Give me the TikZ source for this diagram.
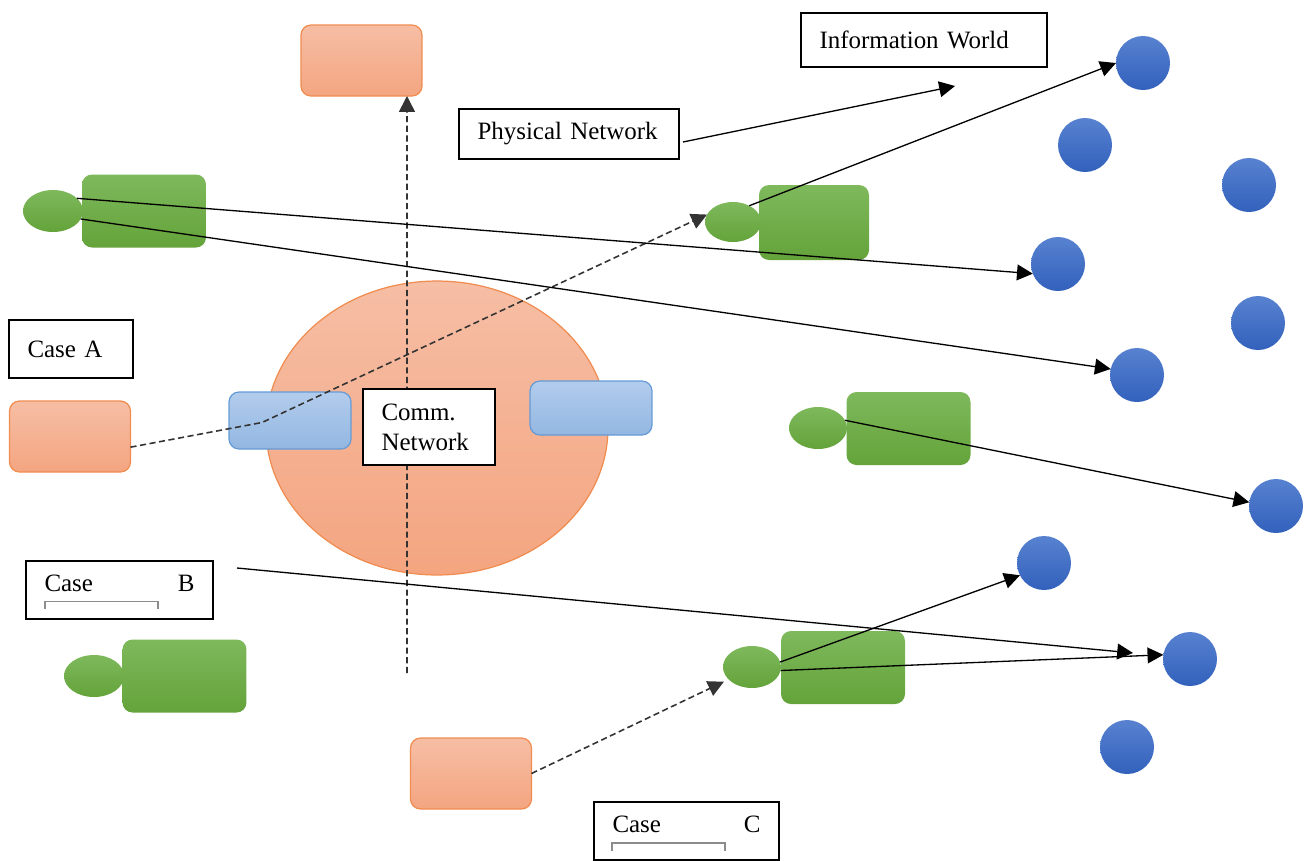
\documentclass[tikz,border=0pt]{standalone}
\usepackage{fontspec}
\setmainfont{Liberation Serif}[WordSpace=0.7]
\usepackage{tikz}
\usetikzlibrary{shapes,arrows.meta,positioning}
\definecolor{greentop}{RGB}{126,185,92}
\definecolor{greenbot}{RGB}{100,163,58}
\definecolor{orangetop}{RGB}{246,190,165}
\definecolor{orangebot}{RGB}{244,165,128}
\definecolor{orangeline}{RGB}{240,140,80}
\definecolor{bluetop}{RGB}{178,204,236}
\definecolor{bluebot}{RGB}{147,183,226}
\definecolor{blueline}{RGB}{102,155,213}
\definecolor{dottop}{RGB}{88,130,208}
\definecolor{dotbot}{RGB}{50,97,188}

\begin{document}
\begin{tikzpicture}[x=0.02cm, y=-0.02cm,
  every node/.style={inner sep=0pt, outer sep=0pt},
  netshape/.style={ellipse, draw=orangeline, line width=0.7pt, top color=orangetop, bottom color=orangebot},
  orangebox/.style={rectangle, rounded corners=0.2cm, draw=orangeline, line width=0.7pt, top color=orangetop, bottom color=orangebot, minimum width=2.42cm, minimum height=1.42cm},
  bluebox/.style={rectangle, rounded corners=0.2cm, draw=blueline, line width=0.7pt, top color=bluetop, bottom color=bluebot, minimum width=2.44cm, minimum height=1.14cm},
  greenbody/.style={rectangle, rounded corners=0.2cm, top color=greentop, bottom color=greenbot, minimum width=2.48cm, minimum height=1.46cm},
  greenhead/.style={ellipse, top color=greentop, bottom color=greenbot, minimum width=1.2cm, minimum height=0.84cm},
  thing/.style={circle, top color=dottop, bottom color=dotbot, minimum size=1.08cm},
  textbox/.style={rectangle, draw=black, fill=white, line width=0.75pt, inner xsep=0.37cm, align=left, font=\fontsize{14.2}{17}\selectfont},
  bracket/.style={draw=black!45, line width=0.6pt},
  link/.style={-{Triangle[length=9pt,width=9pt]}, line width=0.75pt, black},
  dlink/.style={link, draw=black!80, line width=0.9pt, dash pattern=on 3.5pt off 2pt}]
\useasboundingbox (0,0) rectangle (1307,860);

% Comm. network
\node[netshape, minimum width=6.84cm, minimum height=5.88cm] (net) at (437,428) {};
\node[bluebox] (blueL) at (290,420.5) {};
\node[bluebox, minimum height=1.08cm] (blueR) at (591,408) {};

% Orange boxes
\node[orangebox] (orT) at (361.5,60.5) {};
\node[orangebox] (orA) at (70,436.5) {};
\node[orangebox] (orB) at (471,773.5) {};

% Green actors, body first then head
\node[greenbody] (b1) at (144,211) {};
\node[greenhead] (h1) at (53,211) {};
\node[greenbody, minimum width=2.2cm, minimum height=1.5cm] (b2) at (814,222.5) {};
\node[greenhead, minimum width=1.12cm, minimum height=0.8cm] (h2) at (733,222) {};
\node[greenbody] (b3) at (908.5,428.5) {};
\node[greenhead, minimum width=1.16cm] (h3) at (818,428) {};
\node[greenbody] (b4) at (184.5,676) {};
\node[greenhead] (h4) at (94,676) {};
\node[greenbody] (b5) at (843,667.5) {};
\node[greenhead, minimum width=1.16cm] (h5) at (752,667) {};

% Information world things
\node[thing] (c1) at (1143,63) {};
\node[thing] (c2) at (1085,145) {};
\node[thing] (c3) at (1249,185) {};
\node[thing] (c4) at (1058,264) {};
\node[thing] (c5) at (1258,323) {};
\node[thing] (c6) at (1137,375) {};
\node[thing] (c7) at (1276,506) {};
\node[thing] (c8) at (1044,563) {};
\node[thing] (c9) at (1190,659) {};
\node[thing] (c10) at (1127,747) {};

% Labels
\node[textbox, text width=4.18cm, minimum height=1.08cm] (info) at (924,40) {Information World};
\node[textbox, text width=3.66cm, minimum height=1.0cm] (phys) at (569,134) {Physical Network};
\node[textbox, text width=1.74cm, minimum height=1.16cm] (caseA) at (71,349) {Case A};
\node[textbox, text width=3.0cm, minimum height=1.16cm, text depth=8pt] (caseB) at (119.5,590) {Case\hfill B};
\node[textbox, text width=2.96cm, minimum height=1.16cm, text depth=8pt] (caseC) at (686.5,831) {Case\hfill C};
\coordinate (iwtip) at (955,86);
\coordinate (vstart) at (407,673);

% Brackets under Case
\draw[bracket] (45,609) -- (45,601.5) -- (158,601.5) -- (158,609);
\draw[bracket] (612,851) -- (612,843) -- (725,843) -- (725,851);

% Vertical dashed arrow, under the comm. box
\draw[dlink] (vstart) -- ([xshift=-0.3cm]orT.south east);
\node[textbox, text width=1.9cm, minimum height=1.52cm] (comm) at (429,427) {Comm.\\Network};

% Dashed arrows
\draw[dlink] (orA.-10) -- ([shift={(-28,2)}]blueL.center) -- (h2.164);
\draw[dlink, shorten >=3pt] (orB.east) -- (h5.208);

% Solid arrows
\draw[link] ([shift={(4,8)}]phys.east) -- (iwtip);
\draw[link] (h2.45) -- (c1.west);
\draw[link] (h1.28) -- (c4.201);
\draw[link] (h1.-16) -- (c6.167);
\draw[link] (h3.16) -- (c7.172);
\draw[link] ([shift={(24,-22)}]caseB.east) -- ([shift={(-30,-6)}]c9.west);
\draw[link] (h5.10) -- (c8.207);
\draw[link] (h5.-7) -- (c9.171);
\end{tikzpicture}
\end{document}
